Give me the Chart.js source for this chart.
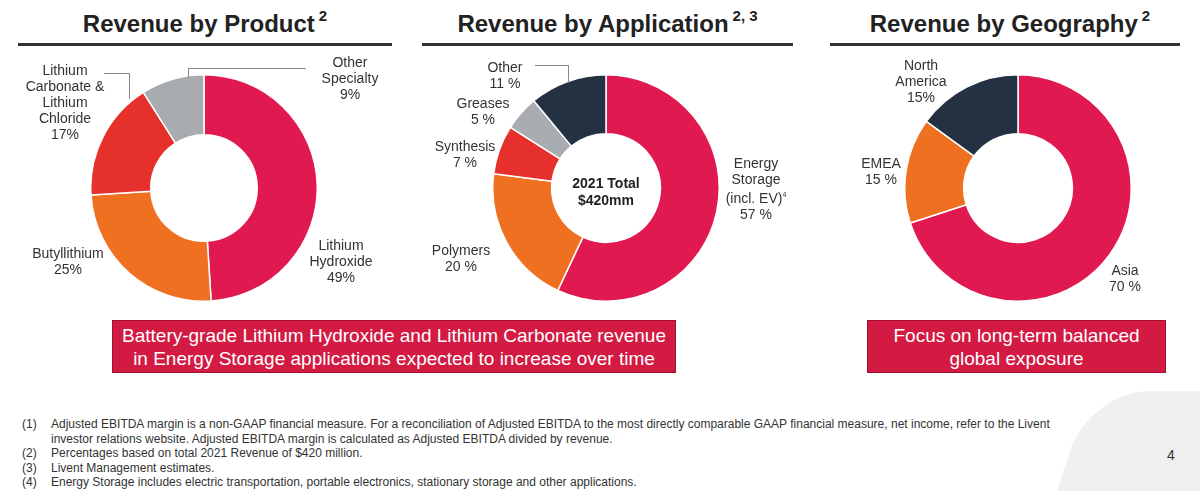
<!DOCTYPE html>
<html>
<head>
<meta charset="utf-8">
<script src="https://cdn.jsdelivr.net/npm/chart.js@4.4.1/dist/chart.umd.min.js"></script>
<style>
  body { margin: 0; width: 1200px; height: 491px; background: #fff; font-family: "Liberation Sans", Arial, sans-serif; position: relative; overflow: hidden; color: #333; }
  .abs { position: absolute; }
  .title { font-weight: bold; font-size: 24px; color: #222; text-align: center; top: 7px; }
  .title sup { font-size: 15px; vertical-align: 11px; margin-left: 4px; }
  .rule { height: 3px; background: #333; top: 43px; }
  .chart { width: 228px; height: 228px; top: 74px; }
  .lbl { font-size: 14px; text-align: center; line-height: 16px; color: #333; }
  .center { font-weight: bold; font-size: 14px; color: #222; text-align: center; line-height: 17px; }
  .box { background: #d31a42; border: 1px solid #a01030; color: #fff; font-size: 19px; text-align: center; line-height: 23px; box-sizing: border-box; padding-top: 3px; top: 320px; height: 53px; }
  .ln { background: #888; }
  .notes { left: 22px; top: 417px; font-size: 12px; line-height: 14.6px; color: #333; }
  .notes td { padding: 0; vertical-align: top; }
  .notes td:first-child { width: 29px; }
</style>
</head>
<body>
<div class="abs" style="right:-40px;bottom:-20px;width:170px;height:120px;background:#f0f0f0;border-radius:60px 0 0 0;transform:skewX(-18deg);"></div>

<div class="abs title" style="left:18px;width:374px;">Revenue by Product<sup>2</sup></div>
<div class="abs title" style="left:422px;width:371px;">Revenue by Application<sup>2, 3</sup></div>
<div class="abs title" style="left:830px;width:360px;">Revenue by Geography<sup>2</sup></div>
<div class="abs rule" style="left:18px;width:374px;"></div>
<div class="abs rule" style="left:422px;width:371px;"></div>
<div class="abs rule" style="left:830px;width:350px;"></div>

<div class="abs chart" style="left:90px;"><canvas id="c1"></canvas></div>
<div class="abs chart" style="left:492px;"><canvas id="c2"></canvas></div>
<div class="abs chart" style="left:904px;"><canvas id="c3"></canvas></div>

<!-- leader lines -->
<div class="abs ln" style="left:104px;top:73px;width:26px;height:1px;"></div>
<div class="abs ln" style="left:129px;top:73px;width:1px;height:26px;"></div>
<div class="abs ln" style="left:188px;top:68px;width:118px;height:1px;"></div>
<div class="abs ln" style="left:188px;top:68px;width:1px;height:10px;"></div>
<div class="abs ln" style="left:535px;top:65px;width:34px;height:1px;"></div>
<div class="abs ln" style="left:568px;top:65px;width:1px;height:18px;"></div>

<!-- labels chart 1 -->
<div class="abs lbl" style="left:15px;top:62px;width:100px;">Lithium<br>Carbonate &amp;<br>Lithium<br>Chloride<br>17%</div>
<div class="abs lbl" style="left:305px;top:54px;width:90px;">Other<br>Specialty<br>9%</div>
<div class="abs lbl" style="left:18px;top:245px;width:100px;">Butyllithium<br>25%</div>
<div class="abs lbl" style="left:296px;top:237px;width:90px;">Lithium<br>Hydroxide<br>49%</div>

<!-- labels chart 2 -->
<div class="abs lbl" style="left:470px;top:59px;width:70px;">Other<br>11 %</div>
<div class="abs lbl" style="left:448px;top:95px;width:70px;">Greases<br>5 %</div>
<div class="abs lbl" style="left:428px;top:138px;width:74px;">Synthesis<br>7 %</div>
<div class="abs lbl" style="left:424px;top:242px;width:74px;">Polymers<br>20 %</div>
<div class="abs lbl" style="left:714px;top:155px;width:84px;">Energy<br>Storage<br>(incl. EV)<sup style="font-size:7px">4</sup><br>57 %</div>
<div class="abs center" style="left:556px;top:175px;width:100px;">2021 Total<br>$420mm</div>

<!-- labels chart 3 -->
<div class="abs lbl" style="left:876px;top:57px;width:90px;">North<br>America<br>15%</div>
<div class="abs lbl" style="left:846px;top:155px;width:70px;">EMEA<br>15 %</div>
<div class="abs lbl" style="left:1090px;top:262px;width:70px;">Asia<br>70 %</div>

<div class="abs box" style="left:112px;width:564px;">Battery-grade Lithium Hydroxide and Lithium Carbonate revenue<br>in Energy Storage applications expected to increase over time</div>
<div class="abs box" style="left:867px;width:299px;">Focus on long-term balanced<br>global exposure</div>

<table class="abs notes" cellspacing="0">
<tr><td>(1)</td><td>Adjusted EBITDA margin is a non-GAAP financial measure. For a reconciliation of Adjusted EBITDA to the most directly comparable GAAP financial measure, net income, refer to the Livent<br>investor relations website. Adjusted EBITDA margin is calculated as Adjusted EBITDA divided by revenue.</td></tr>
<tr><td>(2)</td><td>Percentages based on total 2021 Revenue of $420 million.</td></tr>
<tr><td>(3)</td><td>Livent Management estimates.</td></tr>
<tr><td>(4)</td><td>Energy Storage includes electric transportation, portable electronics, stationary storage and other applications.</td></tr>
</table>
<div class="abs" style="left:1167px;top:447px;font-size:14px;">4</div>

<script>
const productLabels = ['Lithium Hydroxide', 'Butyllithium', 'Lithium Carbonate & Lithium Chloride', 'Other Specialty'];
const productValues = [49, 25, 17, 9];
const productColors = ['#e01a50', '#f07022', '#e5302b', '#a8acb0'];

const applicationLabels = ['Energy Storage (incl. EV)', 'Polymers', 'Synthesis', 'Greases', 'Other'];
const applicationValues = [57, 20, 7, 5, 11];
const applicationColors = ['#e01a50', '#f07022', '#e5302b', '#a8acb0', '#233142'];

const geographyLabels = ['Asia', 'EMEA', 'North America'];
const geographyValues = [70, 15, 15];
const geographyColors = ['#e01a50', '#f07022', '#233142'];

function makeDoughnut(id, labels, values, colors, cutout) {
    return new Chart(document.getElementById(id), {
        type: 'doughnut',
        data: {
            labels: labels,
            datasets: [{
                data: values,
                backgroundColor: colors,
                borderColor: '#ffffff',
                borderWidth: 1.5
            }]
        },
        options: {
            responsive: true,
            maintainAspectRatio: false,
            animation: false,
            cutout: cutout,
            layout: { padding: 0 },
            plugins: {
                legend: { display: false },
                tooltip: { enabled: false }
            }
        }
    });
}

makeDoughnut('c1', productLabels, productValues, productColors, '47%');
makeDoughnut('c2', applicationLabels, applicationValues, applicationColors, '48%');
makeDoughnut('c3', geographyLabels, geographyValues, geographyColors, '48%');
</script>
</body>
</html>
